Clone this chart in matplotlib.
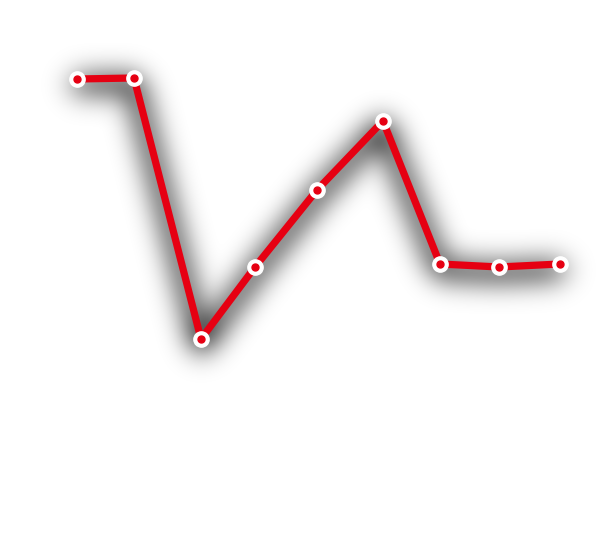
import numpy as np
import matplotlib
matplotlib.use("Agg")
import matplotlib.pyplot as plt

x_vals = [77, 134, 201, 255, 317, 383, 440, 499, 560]
y_vals = [92.75, 93.0, 27.75, 45.75, 65.0, 82.25, 46.5, 45.75, 46.5]

RED = "#e60012"


def gaussian_blur(a, sigma):
    r = int(3 * sigma)
    t = np.arange(-r, r + 1)
    k = np.exp(-t ** 2 / (2 * sigma ** 2))
    k /= k.sum()
    a = np.apply_along_axis(lambda m: np.convolve(m, k, mode="same"), 0, a)
    a = np.apply_along_axis(lambda m: np.convolve(m, k, mode="same"), 1, a)
    return a


def shadow_filter(im, dpi):
    pad = 70
    padded = np.pad(im, ((pad, pad), (pad, pad), (0, 0)))
    alpha = padded[:, :, 3]
    blurred = gaussian_blur(alpha, 14.0)
    blurred = np.roll(blurred, 6, axis=0)
    out = np.zeros_like(padded)
    out[:, :, 3] = np.clip(blurred * 2.1, 0, 0.9)
    return out, -pad, -pad


fig = plt.figure(figsize=(6, 5.38), dpi=100)
ax = fig.add_axes([0, 0, 1, 1])
ax.set_xlim(0, 600)
ax.set_ylim(-22, 112.5)
ax.axis("off")

shadow, = ax.plot(x_vals, y_vals, color="black", lw=5.2, solid_joinstyle="miter",
                  zorder=1)
shadow.set_agg_filter(shadow_filter)
shadow.set_rasterized(True)

ax.plot(x_vals, y_vals, color=RED, lw=5.2, solid_joinstyle="miter", zorder=2)
ax.plot(x_vals, y_vals, ls="none", marker="o", ms=11, mfc="white", mec="white",
        zorder=3)
ax.plot(x_vals, y_vals, ls="none", marker="o", ms=5, mfc=RED, mec=RED, zorder=4)

fig.savefig("out.png", dpi=100, facecolor="white")
